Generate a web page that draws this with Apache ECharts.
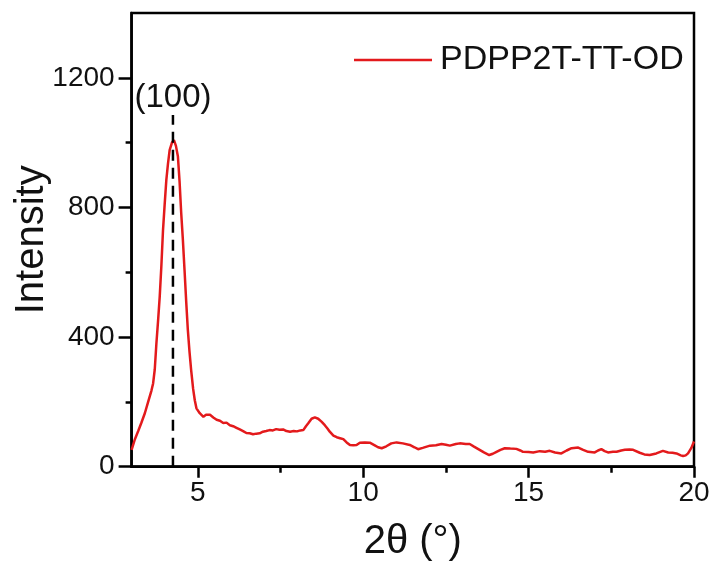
<!DOCTYPE html>
<html>
<head>
<meta charset="utf-8">
<script src="https://cdn.jsdelivr.net/npm/echarts@6/dist/echarts.min.js"></script>
<style>
html,body{margin:0;padding:0;background:#fff;}
#chart{width:714px;height:563px;}
</style>
</head>
<body>
<div id="chart"></div>
<script>
// 2θ (degrees)
const twoTheta = [3.00,3.10,3.20,3.29,3.40,3.50,3.60,3.65,3.70,3.75,3.80,3.85,3.90,3.95,4.00,4.05,4.10,4.15,4.22,4.28,4.34,4.40,4.45,4.50,4.55,4.60,4.65,4.70,4.75,4.80,4.86,4.91,4.96,5.06,5.17,5.25,5.37,5.47,5.57,5.67,5.77,5.87,5.97,6.07,6.17,6.27,6.37,6.47,6.57,6.67,6.77,6.87,6.97,7.07,7.17,7.27,7.37,7.47,7.58,7.68,7.79,7.90,8.00,8.10,8.19,8.27,8.34,8.44,8.54,8.64,8.74,8.84,8.92,8.99,9.10,9.20,9.30,9.40,9.50,9.60,9.70,9.80,9.90,10.05,10.20,10.35,10.45,10.56,10.70,10.85,11.01,11.20,11.41,11.55,11.66,11.80,12.02,12.20,12.37,12.50,12.62,12.80,12.92,13.10,13.22,13.35,13.52,13.65,13.81,13.92,14.03,14.15,14.28,14.45,14.63,14.75,14.83,15.00,15.14,15.34,15.50,15.64,15.80,15.99,16.15,16.30,16.50,16.65,16.80,17.00,17.10,17.20,17.30,17.40,17.55,17.66,17.80,17.91,18.05,18.16,18.36,18.50,18.66,18.86,19.06,19.22,19.35,19.47,19.60,19.67,19.75,19.82,19.92,20.00];
// Intensity
const intensity = [52,85,110,134,165,200,235,257,300,381,450,525,620,731,810,885,935,977,1000,1008,990,957,880,782,700,607,510,422,355,298,240,205,180,165,154,160,160,152,145,142,135,136,128,125,120,115,110,104,103,100,102,103,108,110,113,112,116,114,115,110,108,110,109,112,113,125,134,148,152,148,139,128,118,108,96,91,88,85,75,67,66,67,74,75,74,66,60,57,63,72,75,72,67,60,54,58,65,66,70,68,65,70,72,70,70,62,52,44,36,40,46,52,57,56,55,50,46,45,44,48,46,49,44,41,50,57,59,52,46,44,50,54,48,44,46,46,50,52,53,52,43,38,36,41,49,44,43,41,35,33,35,41,58,78];

const seriesName = 'PDPP2T-TT-OD';
const peakLabel = '(100)';
const peakPos = [4.25];
const peakLineRange = [0, 1085];

const xTicks = [5, 10, 15, 20];
const xMinorTicks = [7.5, 12.5, 17.5];
const yTicks = [0, 400, 800, 1200];
const yMinorTicks = [200, 600, 1000];

const data = twoTheta.map((x, i) => [x, intensity[i]]);
const dashData = [[peakPos[0], peakLineRange[0]], [peakPos[0], peakLineRange[1]]];

const FONT = '"Liberation Sans", Arial, sans-serif';
const chart = echarts.init(document.getElementById('chart'), null, {renderer: 'canvas'});
const tickStyle = {color: '#000', width: 2.5};
chart.setOption({
  animation: false,
  backgroundColor: '#fff',
  grid: {left: 131.6, right: 20, top: 13, bottom: 96.3, show: true, borderColor: '#000', borderWidth: 2.5,
    backgroundColor: 'transparent', containLabel: false, outerBoundsMode: 'none'},
  legend: {
    data: [seriesName],
    left: 354, top: 43, padding: 0,
    itemWidth: 78, itemHeight: 2.5, icon: 'rect',
    textStyle: {fontFamily: FONT, fontSize: 34, color: '#111', padding: [0,0,0,3]}
  },
  xAxis: [{
    type: 'value', min: 3, max: 20, interval: 2.5,
    name: '2θ (°)', nameLocation: 'middle', nameGap: 55, nameMoveOverlap: false,
    nameTextStyle: {fontFamily: FONT, fontSize: 40, color: '#111'},
    axisLine: {lineStyle: {color: '#000', width: 2.5}},
    axisTick: {show: true, length: 11, lineStyle: tickStyle, customValues: xTicks},
    axisLabel: {fontFamily: FONT, fontSize: 28, color: '#111', margin: 13,
      customValues: xTicks, formatter: v => String(v)},
    splitLine: {show: false}
  }, {
    type: 'value', min: 3, max: 20, interval: 2.5, position: 'bottom',
    axisLine: {show: false}, axisLabel: {show: false}, splitLine: {show: false},
    axisTick: {show: true, length: 6, lineStyle: tickStyle, customValues: xMinorTicks}
  }],
  yAxis: [{
    type: 'value', min: 0, max: 1400, interval: 200,
    name: 'Intensity', nameLocation: 'middle', nameGap: 80, nameRotate: 90, nameMoveOverlap: false,
    nameTextStyle: {fontFamily: FONT, fontSize: 40, color: '#111'},
    axisLine: {lineStyle: {color: '#000', width: 2.5}},
    axisTick: {show: true, length: 13, lineStyle: tickStyle, customValues: yTicks},
    axisLabel: {fontFamily: FONT, fontSize: 28, color: '#111', margin: 17,
      customValues: yTicks, formatter: v => String(v)},
    splitLine: {show: false}
  }, {
    type: 'value', min: 0, max: 1400, interval: 200, position: 'left',
    axisLine: {show: false}, axisLabel: {show: false}, splitLine: {show: false},
    axisTick: {show: true, length: 6, lineStyle: tickStyle, customValues: yMinorTicks}
  }],
  series: [
    {
      name: seriesName, type: 'line', data: data, showSymbol: false, symbol: 'none',
      lineStyle: {color: '#e31a1c', width: 2.5}, itemStyle: {color: '#e31a1c'}, z: 3
    },
    {
      name: 'peak', type: 'line', data: dashData, symbol: 'none', showSymbol: false,
      lineStyle: {color: '#000', width: 2.5, type: [11, 7]}, z: 4,
      markPoint: {
        symbol: 'circle', symbolSize: 0,
        data: [{coord: dashData[1], value: peakLabel}],
        label: {show: true, position: 'top', distance: 1, formatter: peakLabel,
          fontFamily: FONT, fontSize: 33, color: '#111'}
      }
    }
  ]
});
</script>
</body>
</html>
